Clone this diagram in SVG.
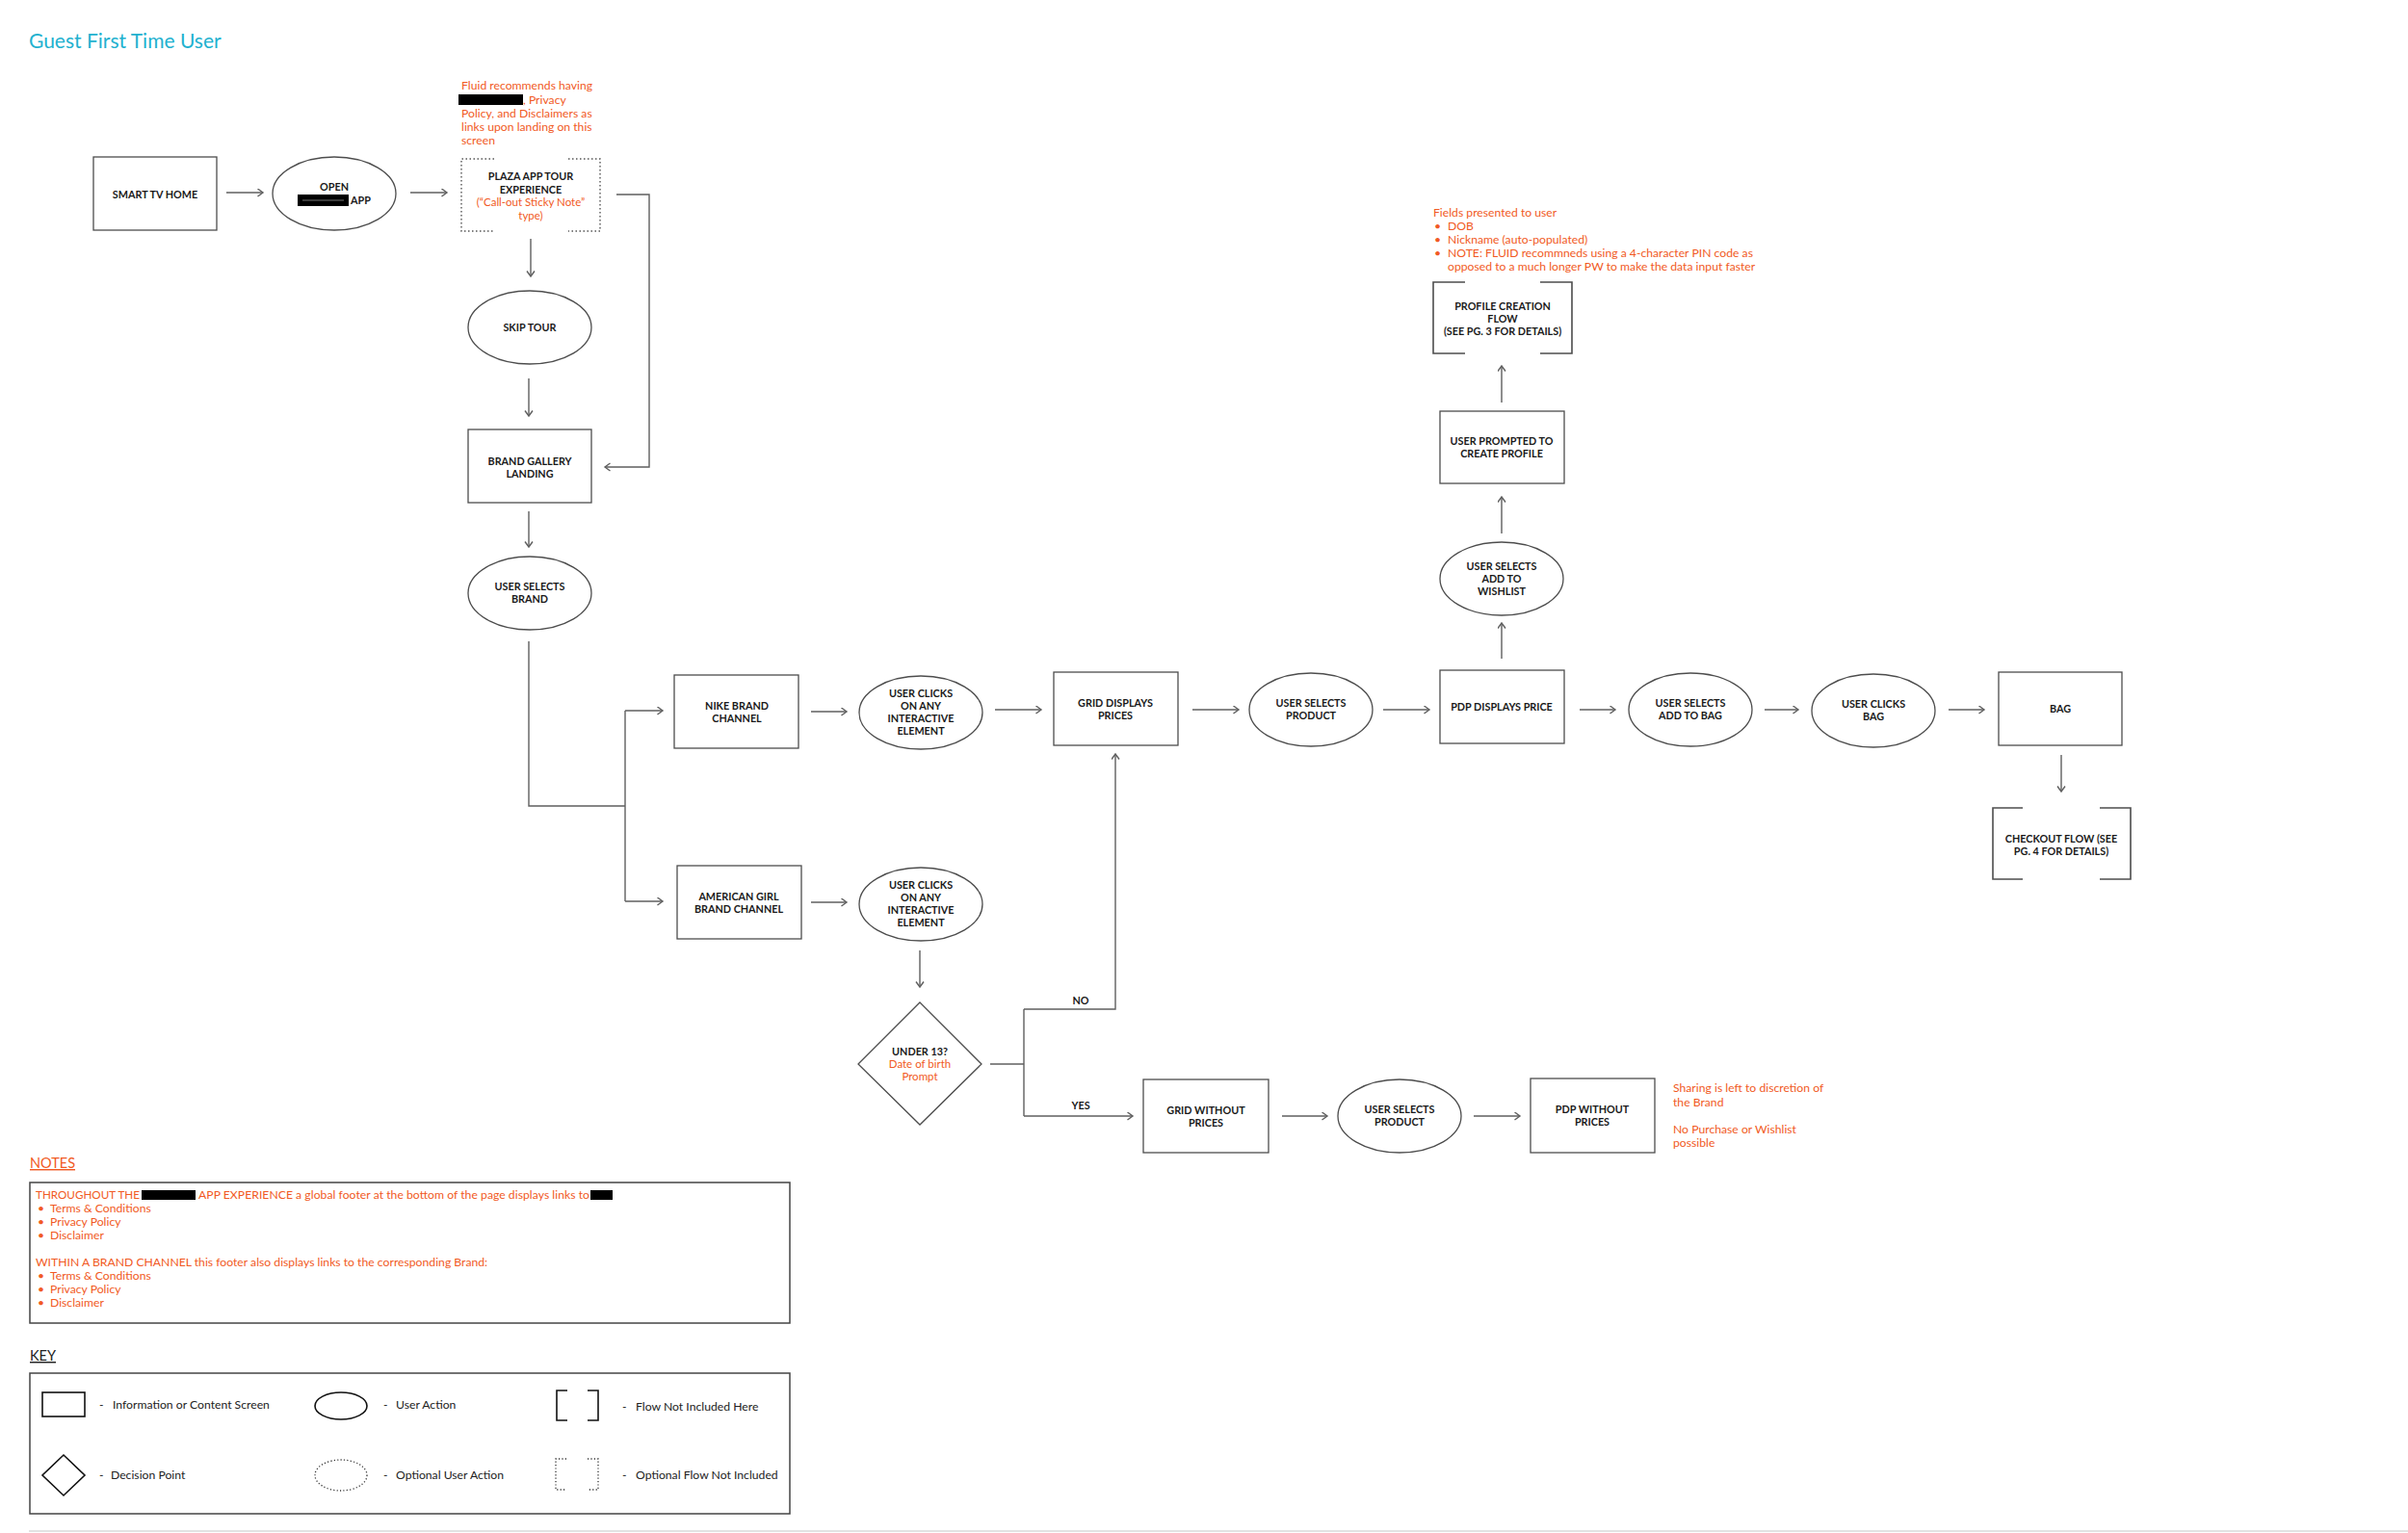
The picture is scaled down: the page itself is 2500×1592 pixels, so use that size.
<svg xmlns="http://www.w3.org/2000/svg" width="2500" height="1592" viewBox="0 0 2500 1592">
<style>
.n{fill:#fff;stroke:#4d4d4d;stroke-width:1.3}
.d{fill:none;stroke:#555;stroke-width:1.4;stroke-dasharray:1.5,2.5}
.b{fill:none;stroke:#4d4d4d;stroke-width:1.6}
.t{font-family:Lato,"Open Sans",sans-serif;font-weight:700;font-size:10.8px;fill:#1a1a1a;text-anchor:middle}
.to{font-family:Lato,"Open Sans",sans-serif;font-size:11.5px;fill:#f15a24;text-anchor:middle}
.o{font-family:Lato,"Open Sans",sans-serif;font-size:12.2px;fill:#f15a24}
.no{font-family:Lato,"Open Sans",sans-serif;font-size:12.2px;fill:#f15a24}
.k{font-family:Lato,"Open Sans",sans-serif;font-size:12.2px;fill:#222}
.ki{fill:none;stroke:#111;stroke-width:1.6}
.kd{fill:none;stroke:#333;stroke-width:1.3;stroke-dasharray:1.2,2.2}
.c{fill:none;stroke:#5f5f5f;stroke-width:1.4}
.ca{fill:none;stroke:#5f5f5f;stroke-width:1.4;marker-end:url(#ah)}
.red{fill:#000}
</style>
<defs>
<marker id="ah" markerWidth="10" markerHeight="10" refX="7" refY="4.5" orient="auto" markerUnits="userSpaceOnUse">
<path d="M1.5,0.5 L7,4.5 L1.5,8.5" fill="none" stroke="#5f5f5f" stroke-width="1.4"/>
</marker>
</defs>
<rect width="2500" height="1592" fill="#fff"/>
<text x="30" y="50" style="font-family:Lato,'Open Sans',sans-serif;font-size:21px;fill:#22b1cf">Guest First Time User</text>

<g id="connectors">
<path class="ca" d="M235,200 H273"/>
<path class="ca" d="M426,200 H464"/>
<path class="ca" d="M640,202 H674 V485 H628"/>
<path class="ca" d="M551,248 V287"/>
<path class="ca" d="M549,393 V432"/>
<path class="ca" d="M549,531 V568"/>
<path class="c" d="M549,666 V837 H649"/>
<path class="c" d="M649,738 V936"/>
<path class="ca" d="M649,738 H688"/>
<path class="ca" d="M649,936 H688"/>
<path class="ca" d="M842,739 H879"/>
<path class="ca" d="M842,937 H879"/>
<path class="ca" d="M1033,737 H1081"/>
<path class="ca" d="M955,987 V1025"/>
<path class="c" d="M1028,1105 H1063"/>
<path class="c" d="M1063,1048 V1159"/>
<path class="ca" d="M1063,1048 H1158 V783"/>
<path class="ca" d="M1063,1159 H1176"/>
<path class="ca" d="M1238,737 H1286"/>
<path class="ca" d="M1436,737 H1484"/>
<path class="ca" d="M1640,737 H1677"/>
<path class="ca" d="M1832,737 H1867"/>
<path class="ca" d="M2023,737 H2060"/>
<path class="ca" d="M2140,784 V822"/>
<path class="ca" d="M1559,684 V647"/>
<path class="ca" d="M1559,554 V516"/>
<path class="ca" d="M1559,418 V380"/>
<path class="ca" d="M1331,1159 H1378"/>
<path class="ca" d="M1530,1159 H1578"/>
<text class="t" x="1122" y="1043">NO</text>
<text class="t" x="1122" y="1152">YES</text>
</g>

<g id="smart-tv-home"><rect class="n" x="97" y="163" width="128" height="76"/><text class="t" x="161" y="206">SMART TV HOME</text></g>

<g id="open-app"><ellipse class="n" cx="347" cy="201" rx="64" ry="38"/>
<text class="t" x="347" y="198">OPEN</text>
<rect class="red" x="309" y="202" width="53" height="12"/>
<line x1="314" y1="208" x2="357" y2="208" stroke="#777" stroke-width="1"/>
<text class="t" x="364" y="212" style="text-anchor:start">APP</text></g>

<g id="plaza-note">
<text class="o" x="479" y="93">Fluid recommends having</text>
<rect class="red" x="476" y="98" width="67" height="11"/>
<text class="o" x="543" y="108">, Privacy</text>
<text class="o" x="479" y="122">Policy, and Disclaimers as</text>
<text class="o" x="479" y="136">links upon landing on this</text>
<text class="o" x="479" y="150">screen</text>
</g>

<g id="plaza-tour"><path class="d" d="M513,165 H479 V240 H513 M590,165 H623 V240 H590"/>
<text class="t" x="551" y="187">PLAZA APP TOUR</text>
<text class="t" x="551" y="201">EXPERIENCE</text>
<text class="to" x="551" y="214">(“Call-out Sticky Note”</text>
<text class="to" x="551" y="228">type)</text></g>

<g id="skip-tour"><ellipse class="n" cx="550" cy="340" rx="64" ry="38"/><text class="t" x="550" y="344">SKIP TOUR</text></g>

<g id="brand-gallery"><rect class="n" x="486" y="446" width="128" height="76"/><text class="t" x="550" y="483">BRAND GALLERY</text><text class="t" x="550" y="496">LANDING</text></g>

<g id="user-selects-brand"><ellipse class="n" cx="550" cy="616" rx="64" ry="38"/><text class="t" x="550" y="613">USER SELECTS</text><text class="t" x="550" y="626">BRAND</text></g>

<g id="nike"><rect class="n" x="700" y="701" width="129" height="76"/><text class="t" x="765" y="737">NIKE BRAND</text><text class="t" x="765" y="750">CHANNEL</text></g>

<g id="user-clicks-1"><ellipse class="n" cx="956" cy="740" rx="64" ry="38"/><text class="t" x="956" y="724">USER CLICKS</text><text class="t" x="956" y="737">ON ANY</text><text class="t" x="956" y="750">INTERACTIVE</text><text class="t" x="956" y="763">ELEMENT</text></g>

<g id="american-girl"><rect class="n" x="703" y="899" width="129" height="76"/><text class="t" x="767" y="935">AMERICAN GIRL</text><text class="t" x="767" y="948">BRAND CHANNEL</text></g>

<g id="user-clicks-2"><ellipse class="n" cx="956" cy="939" rx="64" ry="38"/><text class="t" x="956" y="923">USER CLICKS</text><text class="t" x="956" y="936">ON ANY</text><text class="t" x="956" y="949">INTERACTIVE</text><text class="t" x="956" y="962">ELEMENT</text></g>

<g id="under-13"><path class="n" d="M955,1041 L1019,1105 L955,1168 L891,1105 Z"/>
<text class="t" x="955" y="1096">UNDER 13?</text>
<text class="to" x="955" y="1109">Date of birth</text>
<text class="to" x="955" y="1122">Prompt</text></g>

<g id="grid-prices"><rect class="n" x="1094" y="698" width="129" height="76"/><text class="t" x="1158" y="734">GRID DISPLAYS</text><text class="t" x="1158" y="747">PRICES</text></g>

<g id="user-selects-product-1"><ellipse class="n" cx="1361" cy="737" rx="64" ry="38"/><text class="t" x="1361" y="734">USER SELECTS</text><text class="t" x="1361" y="747">PRODUCT</text></g>

<g id="pdp-price"><rect class="n" x="1495" y="696" width="129" height="76"/><text class="t" x="1559" y="738">PDP DISPLAYS PRICE</text></g>

<g id="wishlist"><ellipse class="n" cx="1559" cy="601" rx="64" ry="38"/><text class="t" x="1559" y="592">USER SELECTS</text><text class="t" x="1559" y="605">ADD TO</text><text class="t" x="1559" y="618">WISHLIST</text></g>

<g id="prompted"><rect class="n" x="1495" y="427" width="129" height="75"/><text class="t" x="1559" y="462">USER PROMPTED TO</text><text class="t" x="1559" y="475">CREATE PROFILE</text></g>

<g id="fields-note">
<text class="o" x="1488" y="225">Fields presented to user</text>
<text class="o" x="1489" y="239">•</text><text class="o" x="1503" y="239">DOB</text>
<text class="o" x="1489" y="253">•</text><text class="o" x="1503" y="253">Nickname (auto-populated)</text>
<text class="o" x="1489" y="267">•</text><text class="o" x="1503" y="267">NOTE: FLUID recommneds using a 4-character PIN code as</text>
<text class="o" x="1503" y="281">opposed to a much longer PW to make the data input faster</text>
</g>

<g id="profile-flow"><path class="b" d="M1521,293 H1488 V367 H1521 M1599,293 H1632 V367 H1599"/>
<text class="t" x="1560" y="322">PROFILE CREATION</text><text class="t" x="1560" y="335">FLOW</text><text class="t" x="1560" y="348">(SEE PG. 3 FOR DETAILS)</text></g>

<g id="add-to-bag"><ellipse class="n" cx="1755" cy="737" rx="64" ry="38"/><text class="t" x="1755" y="734">USER SELECTS</text><text class="t" x="1755" y="747">ADD TO BAG</text></g>

<g id="clicks-bag"><ellipse class="n" cx="1945" cy="738" rx="64" ry="38"/><text class="t" x="1945" y="735">USER CLICKS</text><text class="t" x="1945" y="748">BAG</text></g>

<g id="bag"><rect class="n" x="2075" y="698" width="128" height="76"/><text class="t" x="2139" y="740">BAG</text></g>

<g id="checkout"><path class="b" d="M2100,839 H2069 V913 H2100 M2180,839 H2212 V913 H2180"/>
<text class="t" x="2140" y="875">CHECKOUT FLOW (SEE</text><text class="t" x="2140" y="888">PG. 4 FOR DETAILS)</text></g>

<g id="grid-without"><rect class="n" x="1187" y="1121" width="130" height="76"/><text class="t" x="1252" y="1157">GRID WITHOUT</text><text class="t" x="1252" y="1170">PRICES</text></g>

<g id="user-selects-product-2"><ellipse class="n" cx="1453" cy="1159" rx="64" ry="38"/><text class="t" x="1453" y="1156">USER SELECTS</text><text class="t" x="1453" y="1169">PRODUCT</text></g>

<g id="pdp-without"><rect class="n" x="1589" y="1120" width="129" height="77"/><text class="t" x="1653" y="1156">PDP WITHOUT</text><text class="t" x="1653" y="1169">PRICES</text></g>

<g id="sharing-note">
<text class="o" x="1737" y="1134">Sharing is left to discretion of</text>
<text class="o" x="1737" y="1149">the Brand</text>
<text class="o" x="1737" y="1177">No Purchase or Wishlist</text>
<text class="o" x="1737" y="1191">possible</text>
</g>

<g id="notes">
<text x="31" y="1213" style="font-family:Lato,'Open Sans',sans-serif;font-size:14.5px;fill:#f15a24;text-decoration:underline">NOTES</text>
<rect x="31" y="1228" width="789" height="146" fill="#fff" stroke="#444" stroke-width="1.5"/>
<text class="no" x="37" y="1245" textLength="108" lengthAdjust="spacingAndGlyphs">THROUGHOUT THE</text>
<rect class="red" x="147" y="1236" width="56" height="10"/>
<text class="no" x="206" y="1245" textLength="406" lengthAdjust="spacing">APP EXPERIENCE a global footer at the bottom of the page displays links to</text>
<rect class="red" x="613" y="1236" width="23" height="10"/>
<text class="no" x="39" y="1259">•</text><text class="no" x="52" y="1259">Terms &amp; Conditions</text>
<text class="no" x="39" y="1273">•</text><text class="no" x="52" y="1273">Privacy Policy</text>
<text class="no" x="39" y="1287">•</text><text class="no" x="52" y="1287">Disclaimer</text>
<text class="no" x="37" y="1315">WITHIN A BRAND CHANNEL this footer also displays links to the corresponding Brand:</text>
<text class="no" x="39" y="1329">•</text><text class="no" x="52" y="1329">Terms &amp; Conditions</text>
<text class="no" x="39" y="1343">•</text><text class="no" x="52" y="1343">Privacy Policy</text>
<text class="no" x="39" y="1357">•</text><text class="no" x="52" y="1357">Disclaimer</text>
</g>

<g id="key">
<text x="31" y="1413" style="font-family:Lato,'Open Sans',sans-serif;font-size:14.5px;fill:#222;text-decoration:underline">KEY</text>
<rect x="31" y="1426" width="789" height="146" fill="#fff" stroke="#444" stroke-width="1.5"/>
<rect class="ki" x="44" y="1446" width="44" height="25"/>
<text class="k" x="103" y="1463">-</text><text class="k" x="117" y="1463">Information or Content Screen</text>
<ellipse class="ki" cx="354" cy="1460" rx="27" ry="14"/>
<text class="k" x="398" y="1463">-</text><text class="k" x="411" y="1463">User Action</text>
<path class="ki" d="M589,1444 H578 V1475 H589 M610,1444 H621 V1475 H610"/>
<text class="k" x="646" y="1465">-</text><text class="k" x="660" y="1465">Flow Not Included Here</text>
<path class="ki" d="M66,1511 L88,1532 L66,1553 L44,1532 Z"/>
<text class="k" x="103" y="1536">-</text><text class="k" x="115" y="1536">Decision Point</text>
<ellipse class="kd" cx="354" cy="1532" rx="27" ry="16"/>
<text class="k" x="398" y="1536">-</text><text class="k" x="411" y="1536">Optional User Action</text>
<path class="kd" d="M588,1515 H577 V1547 H588 M610,1515 H621 V1547 H610"/>
<text class="k" x="646" y="1536">-</text><text class="k" x="660" y="1536">Optional Flow Not Included</text>
</g>
<line x1="30" y1="1590" x2="2500" y2="1590" stroke="#e2e2e2" stroke-width="2"/>
</svg>
